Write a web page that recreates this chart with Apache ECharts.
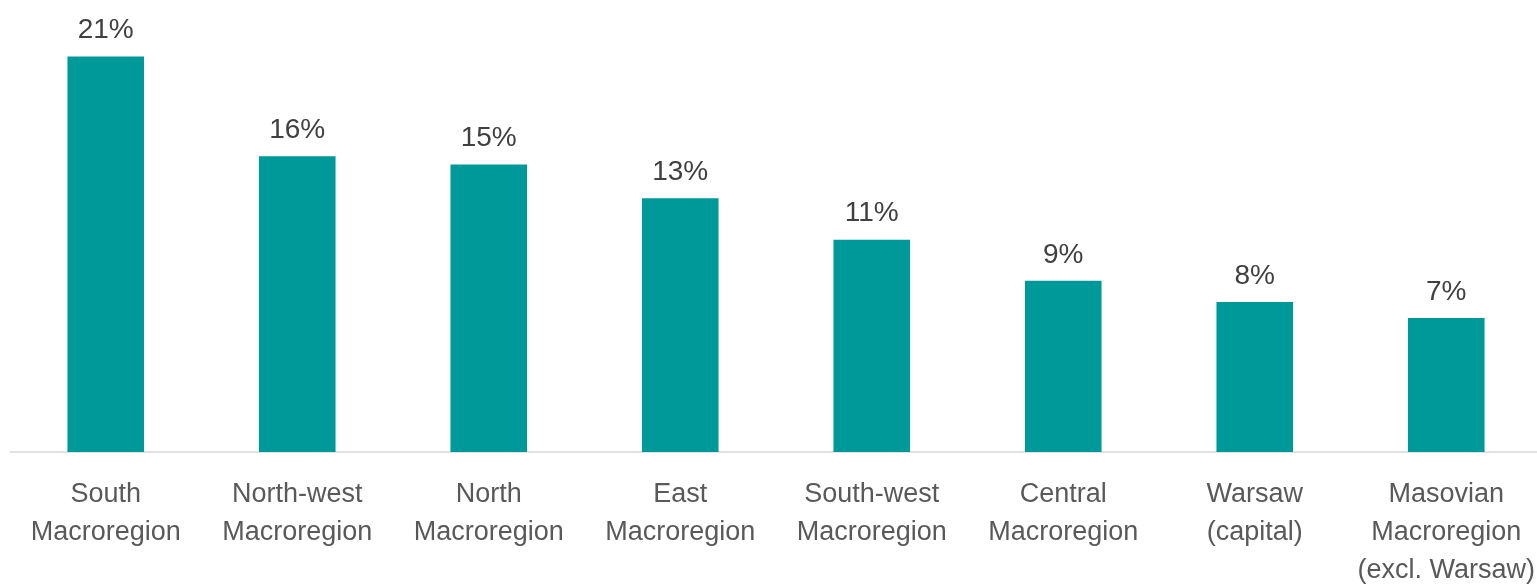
<!DOCTYPE html>
<html>
<head>
<meta charset="utf-8">
<script src="https://cdn.jsdelivr.net/npm/echarts@6/dist/echarts.min.js"></script>
<style>
  html, body { margin: 0; padding: 0; background: #fff; }
  #chart { width: 1537px; height: 586px; }
</style>
</head>
<body>
<div id="chart"></div>
<script>
var regions = [
    'South\nMacroregion',
    'North-west\nMacroregion',
    'North\nMacroregion',
    'East\nMacroregion',
    'South-west\nMacroregion',
    'Central\nMacroregion',
    'Warsaw\n(capital)',
    'Masovian\nMacroregion\n(excl. Warsaw)'
];
// share, %
var shares = [21.0, 15.7, 15.26, 13.47, 11.27, 9.09, 7.97, 7.11];

var font = "'Liberation Sans Narrow', 'Arial Narrow', 'Liberation Sans', Arial, sans-serif";

var chart = echarts.init(document.getElementById('chart'));
chart.setOption({
    animation: false,
    grid: { left: 10, right: -5, top: 0, bottom: 134, outerBoundsMode: 'none', containLabel: false },
    xAxis: {
        type: 'category',
        data: regions,
        axisLine: { lineStyle: { color: '#d9d9d9', width: 1.5 } },
        axisTick: { show: false },
        axisLabel: {
            interval: 0,
            margin: 24,
            color: '#595959',
            fontFamily: font,
            fontSize: 27,
            lineHeight: 38
        }
    },
    yAxis: {
        type: 'value',
        min: 0,
        max: 24,
        show: false,
        splitLine: { show: false }
    },
    series: [{
        type: 'bar',
        data: shares,
        barWidth: '40%',
        itemStyle: { color: '#009999' },
        label: {
            show: true,
            position: 'top',
            distance: 12,
            color: '#404040',
            fontFamily: font,
            fontSize: 28,
            formatter: function (p) { return Math.round(p.value) + '%'; }
        }
    }]
});
</script>
</body>
</html>
